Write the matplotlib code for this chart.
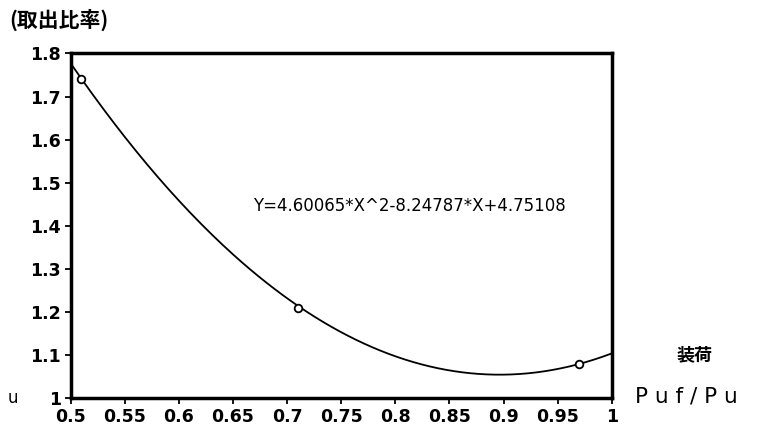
import matplotlib.pyplot as plt
import numpy as np

plt.rcParams['font.family'] = ['Noto Sans CJK JP', 'DejaVu Sans']

# measured points
xPts = [0.51, 0.71, 0.97]
yPts = [1.74, 1.21, 1.08]
# fitted curve printed on the chart
coefs = [4.60065, -8.24787, 4.75108]
eqText = "Y=4.60065*X^2-8.24787*X+4.75108"

xTicks = [0.5, 0.55, 0.6, 0.65, 0.7, 0.75, 0.8, 0.85, 0.9, 0.95, 1.0]
xTickLabels = ["0.5", "0.55", "0.6", "0.65", "0.7", "0.75", "0.8", "0.85", "0.9", "0.95", "1"]
yTicks = [1.0, 1.1, 1.2, 1.3, 1.4, 1.5, 1.6, 1.7, 1.8]
yTickLabels = ["1", "1.1", "1.2", "1.3", "1.4", "1.5", "1.6", "1.7", "1.8"]

fig = plt.figure(figsize=(7.59, 4.38), dpi=100)
ax = fig.add_axes([0.093, 0.091, 0.713, 0.787])

xs = np.linspace(0.5, 1.0, 200)
ax.plot(xs, np.polyval(coefs, xs), color='black', lw=1.3)
ax.plot(xPts, yPts, 'o', ms=5.5, mfc='white', mec='black', mew=1.3)

ax.set_xlim(0.5, 1.0)
ax.set_ylim(1.0, 1.8)
ax.set_xticks(xTicks)
ax.set_xticklabels(xTickLabels)
ax.set_yticks(yTicks)
ax.set_yticklabels(yTickLabels)
for s in ax.spines.values():
    s.set_linewidth(2.5)
ax.tick_params(axis='both', direction='out', length=4, width=1.3, labelsize=12.5, pad=3)
for lab in ax.get_xticklabels() + ax.get_yticklabels():
    lab.set_fontweight('bold')
    lab.set_family('DejaVu Sans')

ax.text(0.669, 1.447, eqText, fontsize=12, va='center', ha='left', family='DejaVu Sans')

fig.text(0.012, 0.955, "(取出比率)", fontsize=15, fontweight='bold', va='center', ha='left')
fig.text(0.010, 0.091, "u", fontsize=12, va='center', ha='left', family='DejaVu Sans')
fig.text(0.915, 0.19, "装荷", fontsize=13, fontweight='bold', va='center', ha='center')
fig.text(0.836, 0.094, "P u f / P u", fontsize=15.5, va='center', ha='left', family='DejaVu Sans')

fig.savefig("out.png", dpi=100)
